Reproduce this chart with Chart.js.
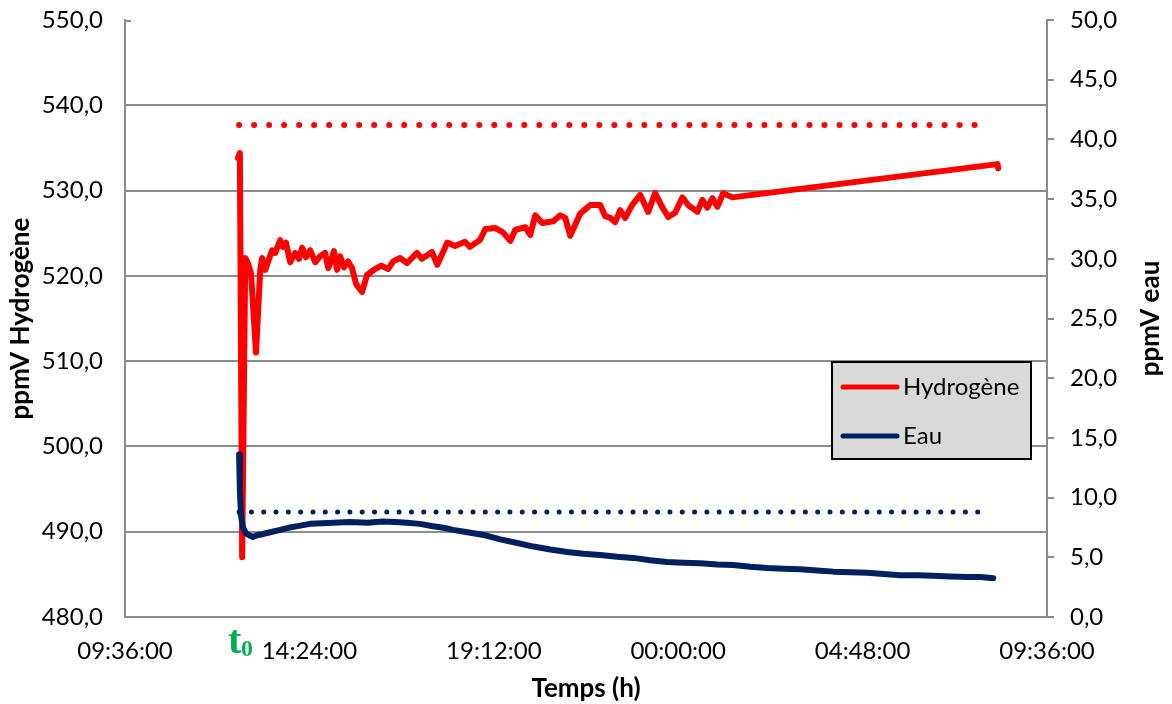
<!DOCTYPE html>
<html>
<head>
<meta charset="utf-8">
<script src="https://cdn.jsdelivr.net/npm/chart.js@4/dist/chart.umd.min.js"></script>
<style>
  body { margin: 0; background: #fff; }
  #wrap { width: 1172px; height: 704px; position: relative; }
</style>
</head>
<body>
<div id="wrap"><canvas id="myChart"></canvas></div>
<script>
// time in hours since 09:36:00 (start of the x axis)
var hydroTime = [2.94, 2.99, 3.05, 3.13, 3.20, 3.28, 3.41, 3.52, 3.57, 3.65, 3.72, 3.83, 3.91, 4.04, 4.11, 4.19,
  4.30, 4.43, 4.53, 4.61, 4.71, 4.82, 4.95, 5.08, 5.21, 5.29, 5.36, 5.44, 5.52, 5.60, 5.70, 5.81, 5.91, 6.02,
  6.17, 6.30, 6.51, 6.67, 6.85, 6.98, 7.16, 7.34, 7.60, 7.73, 7.99, 8.13, 8.39, 8.59, 8.85, 8.98, 9.24, 9.38,
  9.64, 9.84, 10.03, 10.16, 10.42, 10.55, 10.68, 10.86, 11.15, 11.33, 11.46, 11.59, 11.85, 12.11, 12.37, 12.50,
  12.63, 12.76, 12.89, 13.02, 13.20, 13.41, 13.62, 13.80, 13.98, 14.14, 14.32, 14.51, 14.66, 14.90, 15.03,
  15.16, 15.29, 15.42, 15.57, 15.81, 22.71, 22.73];
var hydroVal = [533.8, 534.4, 487.0, 522.1, 521.5, 520.3, 511.0, 520.7, 522.1, 520.7, 521.6, 523.0, 522.7, 524.2,
  523.4, 523.9, 521.6, 522.7, 522.0, 523.3, 522.2, 523.0, 521.6, 522.3, 522.7, 520.9, 521.7, 522.9, 520.7, 522.3,
  521.0, 521.7, 520.9, 519.0, 518.1, 520.1, 520.8, 521.2, 520.8, 521.7, 522.1, 521.5, 522.7, 522.0, 522.8, 521.3,
  523.9, 523.5, 524.0, 523.4, 524.2, 525.5, 525.6, 525.1, 524.1, 525.4, 525.7, 524.8, 527.1, 526.2, 526.4, 527.1,
  526.8, 524.7, 527.3, 528.3, 528.3, 527.0, 526.8, 526.3, 527.7, 526.8, 528.3, 529.5, 527.5, 529.7, 528.1, 526.9,
  527.4, 529.2, 528.3, 527.5, 528.9, 528.0, 529.1, 528.1, 529.7, 529.2, 533.1, 532.6];

var waterTime = [2.97, 2.99, 3.02, 3.07, 3.15, 3.26, 3.33, 3.44, 3.59, 3.78, 4.04, 4.30, 4.56, 4.82, 5.13, 5.42,
  5.86, 6.30, 6.72, 7.03, 7.34, 7.68, 8.02, 8.33, 8.54, 8.91, 9.19, 9.43, 9.77, 10.21, 10.63, 11.07, 11.51, 11.93,
  12.37, 12.81, 13.23, 13.67, 14.11, 14.53, 14.97, 15.42, 15.83, 16.28, 16.72, 17.14, 17.58, 18.02, 18.44, 18.88,
  19.32, 19.74, 20.18, 20.63, 21.04, 21.48, 21.93, 22.27, 22.60];
var waterVal = [13.6, 10.6, 8.5, 7.5, 7.0, 6.8, 6.7, 6.85, 6.95, 7.1, 7.3, 7.5, 7.65, 7.8, 7.85, 7.9,
  7.95, 7.9, 8.0, 7.95, 7.9, 7.8, 7.6, 7.45, 7.3, 7.1, 6.95, 6.8, 6.5, 6.2, 5.9, 5.65, 5.45, 5.3,
  5.2, 5.05, 4.95, 4.75, 4.6, 4.55, 4.5, 4.4, 4.35, 4.2, 4.1, 4.05, 4.0, 3.9, 3.8, 3.75,
  3.7, 3.6, 3.5, 3.5, 3.45, 3.4, 3.35, 3.35, 3.25];

// reference (dotted) levels
var refTime = [2.97, 22.47];
var refHydro = [537.7, 537.7];
var refWater = [8.8, 8.8];

var xTickLabels = ['09:36:00', '14:24:00', '19:12:00', '00:00:00', '04:48:00', '09:36:00'];

function pts(xs, ys) {
  return xs.map(function (x, i) { return { x: x, y: ys[i] }; });
}
function comma(v) { return v.toFixed(1).replace('.', ','); }

var red = '#ff0000';
var navy = '#002060';
var grey = '#8c8c8c';
var tickFont = { family: 'Lato', size: 24 };

var extras = {
  id: 'extras',
  afterDraw: function (chart) {
    var ctx = chart.ctx;
    var area = chart.chartArea;
    ctx.save();
    // small inside tick at the top of the left axis
    ctx.strokeStyle = grey;
    ctx.lineWidth = 2;
    ctx.beginPath();
    ctx.moveTo(area.left, area.top + 1);
    ctx.lineTo(area.left + 6, area.top + 1);
    ctx.stroke();

    // axis titles
    ctx.fillStyle = '#000';
    ctx.font = 'bold 26px Lato';
    ctx.textAlign = 'center';
    ctx.textBaseline = 'middle';
    ctx.fillText('Temps (h)', (area.left + area.right) / 2, 689);

    ctx.save();
    ctx.translate(21, (area.top + area.bottom) / 2);
    ctx.rotate(-Math.PI / 2);
    ctx.fillText('ppmV Hydrogène', 0, 0);
    ctx.restore();

    ctx.save();
    ctx.translate(1151, (area.top + area.bottom) / 2);
    ctx.rotate(-Math.PI / 2);
    ctx.fillText('ppmV eau', 0, 0);
    ctx.restore();

    // t0 marker under the axis
    ctx.fillStyle = '#00b050';
    ctx.textAlign = 'left';
    ctx.textBaseline = 'alphabetic';
    ctx.font = 'bold 40px "Liberation Serif"';
    ctx.fillText('t', 228, 653);
    ctx.font = 'bold 24px "Liberation Serif"';
    ctx.fillText('0', 241, 656);

    // legend box
    ctx.fillStyle = '#d9d9d9';
    ctx.fillRect(832, 362, 199, 97);
    ctx.strokeStyle = '#000';
    ctx.lineWidth = 2;
    ctx.strokeRect(832, 362, 199, 97);
    ctx.lineCap = 'round';
    ctx.lineWidth = 5;
    ctx.strokeStyle = red;
    ctx.beginPath(); ctx.moveTo(843, 387); ctx.lineTo(897, 387); ctx.stroke();
    ctx.strokeStyle = navy;
    ctx.beginPath(); ctx.moveTo(843, 436); ctx.lineTo(897, 436); ctx.stroke();
    ctx.fillStyle = '#000';
    ctx.font = '24px Lato';
    ctx.textBaseline = 'middle';
    ctx.fillText('Hydrogène', 903, 387);
    ctx.fillText('Eau', 903, 436);
    ctx.restore();
  }
};

function fixY(s) {
  s.width = 125;
  s.paddingTop = 0;
  s.paddingBottom = 0;
}

var config = {
  type: 'line',
  data: {
    datasets: [
      {
        label: 'Hydrogène',
        data: pts(hydroTime, hydroVal),
        yAxisID: 'yH',
        borderColor: red,
        borderWidth: 6,
        pointRadius: 0,
        borderJoinStyle: 'round',
        borderCapStyle: 'round',
        order: 2
      },
      {
        label: 'Eau',
        data: pts(waterTime, waterVal),
        yAxisID: 'yE',
        borderColor: navy,
        borderWidth: 6,
        pointRadius: 0,
        borderJoinStyle: 'round',
        borderCapStyle: 'round',
        order: 1
      },
      {
        label: 'refH',
        data: pts(refTime, refHydro),
        yAxisID: 'yH',
        borderColor: red,
        borderWidth: 6,
        borderDash: [0.01, 15],
        borderCapStyle: 'round',
        pointRadius: 0,
        order: 3
      },
      {
        label: 'refE',
        data: pts(refTime, refWater),
        yAxisID: 'yE',
        borderColor: navy,
        borderWidth: 5,
        borderDash: [0.01, 12.3],
        borderCapStyle: 'round',
        pointRadius: 0,
        order: 3
      }
    ]
  },
  options: {
    responsive: true,
    maintainAspectRatio: false,
    animation: false,
    layout: { padding: { top: 20, left: 0, right: 0, bottom: 0 } },
    plugins: {
      legend: { display: false },
      tooltip: { enabled: false }
    },
    scales: {
      x: {
        type: 'linear',
        min: 0,
        max: 24,
        ticks: {
          stepSize: 4.8,
          color: '#000',
          font: tickFont,
          padding: 20,
          maxRotation: 0,
          callback: function (v, i) { return xTickLabels[i]; }
        },
        grid: { drawOnChartArea: false, drawTicks: false },
        border: { color: grey, width: 2 },
        afterFit: function (s) { s.height = 87; s.paddingLeft = 0; s.paddingRight = 0; }
      },
      yH: {
        position: 'left',
        min: 480,
        max: 550,
        ticks: {
          stepSize: 10,
          color: '#000',
          font: tickFont,
          padding: 22,
          callback: function (v) { return comma(v); }
        },
        grid: {
          drawTicks: false,
          lineWidth: 2,
          color: function (c) { return c.tick && c.tick.value === 550 ? 'rgba(0,0,0,0)' : grey; }
        },
        border: { color: grey, width: 2 },
        afterFit: fixY
      },
      yE: {
        position: 'right',
        min: 0,
        max: 50,
        ticks: {
          stepSize: 5,
          color: '#000',
          font: tickFont,
          padding: 16,
          callback: function (v) { return comma(v); }
        },
        grid: { drawOnChartArea: false, tickLength: 7, lineWidth: 2, color: grey },
        border: { color: grey, width: 2 },
        afterFit: fixY
      }
    }
  },
  plugins: [extras]
};

var myChart = new Chart(document.getElementById('myChart'), config);
</script>
</body>
</html>
